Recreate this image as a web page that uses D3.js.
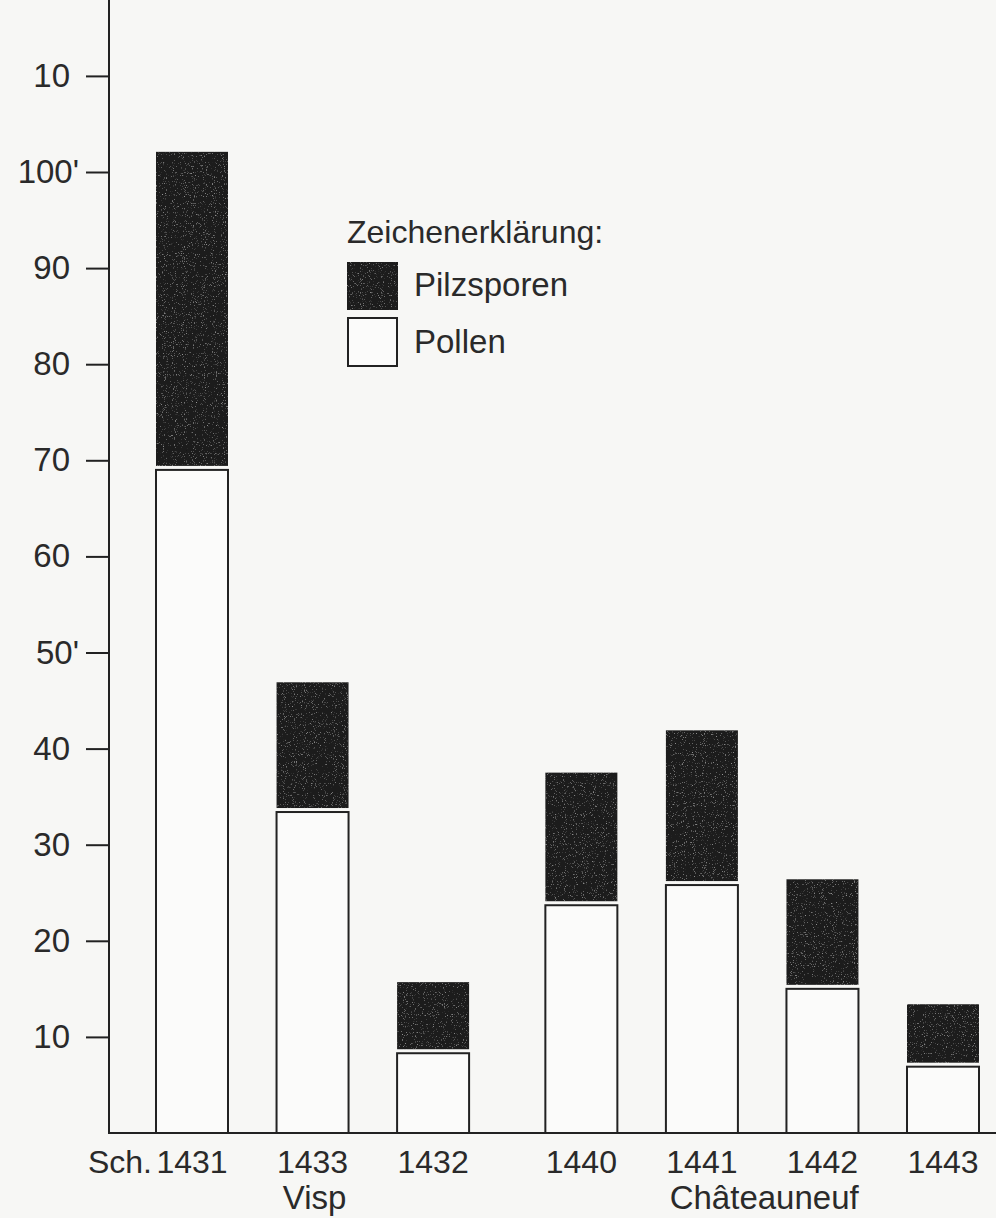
<!DOCTYPE html>
<html lang="de">
<head>
  <meta charset="utf-8">
  <title>Pilzsporen und Pollen</title>
  <style>
    body {
      margin: 0;
      background: #f7f7f5;
    }

    svg text {
      font-family: "Liberation Sans", "DejaVu Sans", sans-serif;
      fill: #2a2a2a;
    }

    .axis path, .axis line {
      fill: none;
      stroke: #222;
      stroke-width: 2px;
    }

    .axis text {
      font-size: 33px;
    }
  </style>
</head>
<body>
  <div id="chart"></div>

  <script src="https://d3js.org/d3.v7.min.js"></script>
  <script>
    // values
    var samples = ["1431", "1433", "1432", "1440", "1441", "1442", "1443"];
    var prefixes = ["Sch.", "", "", "", "", "", ""];
    var groupOf = [0, 0, 0, 1, 1, 1, 1];
    var groupNames = ["Visp", "Châteauneuf"];
    var pollen = [69.0, 33.4, 8.3, 23.7, 25.8, 15.0, 6.9];
    var sporen = [33.1, 13.5, 7.4, 13.8, 16.1, 11.4, 6.5];
    var tickValues = [10, 20, 30, 40, 50, 60, 70, 80, 90, 100, 110];
    var tickLabels = ["10", "20", "30", "40", "50'", "60", "70", "80", "90", "100'", "10"];

    var width = 996, height = 1218;
    var axisX = 109, baseY = 1133;
    var barW = 72, gap = 4;

    var y = d3.scaleLinear()
              .domain([0, 100])
              .range([baseY, 172]);

    // slot index, with a bit of extra room between the two sites
    var slot = function(i) { return i + groupOf[i] * 0.23; };
    var x = d3.scaleLinear()
              .domain([0, slot(6)])
              .range([156, 907]);

    var svg = d3.select("#chart").append("svg")
                .attr("width", width)
                .attr("height", height);

    var defs = svg.append("defs");
    var grain = defs.append("filter").attr("id", "grain");
    grain.append("feTurbulence")
         .attr("type", "fractalNoise")
         .attr("baseFrequency", 0.9)
         .attr("numOctaves", 2)
         .attr("seed", 3)
         .attr("result", "n");
    grain.append("feColorMatrix")
         .attr("in", "n")
         .attr("type", "matrix")
         .attr("values", "0 0 0 0 0.8  0 0 0 0 0.8  0 0 0 0 0.8  1.4 0 0 0 -0.88")
         .attr("result", "spots");
    grain.append("feComposite")
         .attr("in", "spots")
         .attr("in2", "SourceGraphic")
         .attr("operator", "in")
         .attr("result", "s2");
    var merge = grain.append("feMerge");
    merge.append("feMergeNode").attr("in", "SourceGraphic");
    merge.append("feMergeNode").attr("in", "s2");

    var data = samples.map(function(s, i) {
      return { name: s, prefix: prefixes[i], group: groupOf[i], pollen: pollen[i], sporen: sporen[i], i: i };
    });

    // pollen (white)
    svg.selectAll(".pollen")
        .data(data)
        .enter().append("rect")
        .attr("class", "pollen")
        .attr("x", function(d) { return x(slot(d.i)); })
        .attr("width", barW)
        .attr("y", function(d) { return y(d.pollen); })
        .attr("height", function(d) { return baseY - y(d.pollen); })
        .attr("fill", "#fbfbfa")
        .attr("stroke", "#222")
        .attr("stroke-width", 2);

    // pilzsporen (black), stacked on top with a small white gap
    svg.selectAll(".sporen")
        .data(data)
        .enter().append("rect")
        .attr("class", "sporen")
        .attr("x", function(d) { return x(slot(d.i)); })
        .attr("width", barW)
        .attr("y", function(d) { return y(d.pollen + d.sporen); })
        .attr("height", function(d) { return y(d.pollen) - gap - y(d.pollen + d.sporen); })
        .attr("fill", "#1f1f1f")
        .attr("filter", "url(#grain)");

    // axes
    var yAxis = svg.append("g")
        .attr("class", "axis")
        .attr("transform", "translate(" + axisX + ",0)")
        .call(d3.axisLeft(y)
                .tickValues(tickValues)
                .tickFormat(function(d, i) { return tickLabels[i]; })
                .tickSize(23)
                .tickPadding(16)
                .tickSizeOuter(0));
    yAxis.select(".domain").remove();
    yAxis.selectAll("text")
        .attr("dx", function(d, i) { return tickLabels[i].indexOf("'") >= 0 ? 9 : 0; });

    svg.append("line")
        .attr("x1", axisX).attr("x2", axisX)
        .attr("y1", 0).attr("y2", baseY + 1)
        .attr("stroke", "#222").attr("stroke-width", 2);
    svg.append("line")
        .attr("x1", axisX - 1).attr("x2", width)
        .attr("y1", baseY).attr("y2", baseY)
        .attr("stroke", "#222").attr("stroke-width", 2);

    // x labels
    svg.selectAll(".xlabel")
        .data(data)
        .enter().append("text")
        .attr("class", "xlabel")
        .attr("x", function(d) { return x(slot(d.i)) + barW / 2; })
        .attr("y", 1173)
        .attr("text-anchor", "middle")
        .style("font-size", "32px")
        .text(function(d) { return d.name; });

    svg.selectAll(".prefix")
        .data(data.filter(function(d) { return d.prefix; }))
        .enter().append("text")
        .attr("class", "prefix")
        .attr("x", function(d) { return x(slot(d.i)) - 4; })
        .attr("y", 1173)
        .attr("text-anchor", "end")
        .style("font-size", "32px")
        .text(function(d) { return d.prefix; });

    svg.selectAll(".group")
        .data(groupNames)
        .enter().append("text")
        .attr("class", "group")
        .attr("x", function(g, gi) {
          var m = data.filter(function(d) { return d.group === gi; });
          return d3.mean(m, function(d) { return x(slot(d.i)) + barW / 2; }) + 2;
        })
        .attr("y", 1209)
        .attr("text-anchor", "middle")
        .style("font-size", "33px")
        .text(function(g) { return g; });

    // legend
    var legend = svg.append("g").attr("transform", "translate(347,0)");
    legend.append("text")
        .attr("x", 0).attr("y", 243)
        .style("font-size", "32px")
        .text("Zeichenerklärung:");
    legend.append("rect")
        .attr("x", 0).attr("y", 262).attr("width", 51).attr("height", 48)
        .attr("fill", "#1f1f1f")
        .attr("filter", "url(#grain)");
    legend.append("rect")
        .attr("x", 1).attr("y", 318).attr("width", 49).attr("height", 48)
        .attr("fill", "#fbfbfa")
        .attr("stroke", "#222").attr("stroke-width", 2);
    legend.append("text")
        .attr("x", 67).attr("y", 296)
        .style("font-size", "33px")
        .text("Pilzsporen");
    legend.append("text")
        .attr("x", 67).attr("y", 353)
        .style("font-size", "33px")
        .text("Pollen");
  </script>
</body>
</html>
